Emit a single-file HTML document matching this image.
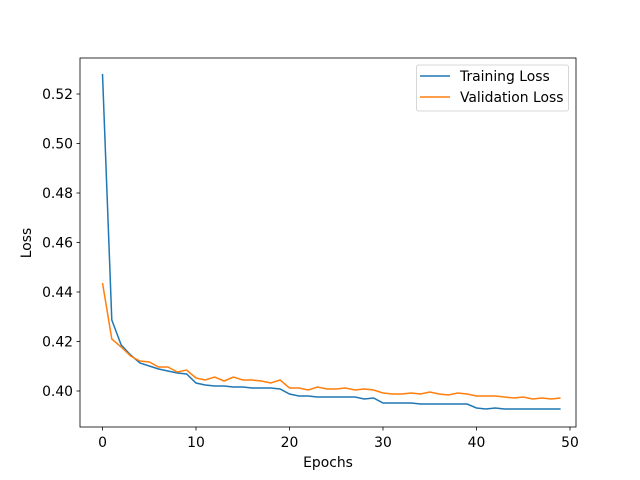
<!DOCTYPE html>
<html><head><meta charset="utf-8"><style>
body{margin:0;background:#fff;}
svg{display:block;font-family:"DejaVu Sans","Liberation Sans",sans-serif;}
</style></head><body>
<svg id="s" width="640" height="480" xmlns="http://www.w3.org/2000/svg">
<rect width="640" height="480" fill="#fff"/>
<g font-size="13.9" fill="#000" stroke="none">
<text x="102.5" y="447" text-anchor="middle">0</text>
<text x="196" y="447" text-anchor="middle">10</text>
<text x="289.5" y="447" text-anchor="middle">20</text>
<text x="383" y="447" text-anchor="middle">30</text>
<text x="476.5" y="447" text-anchor="middle">40</text>
<text x="570" y="447" text-anchor="middle">50</text>
<text x="73" y="396" text-anchor="end">0.40</text>
<text x="73" y="346.5" text-anchor="end">0.42</text>
<text x="73" y="297" text-anchor="end">0.44</text>
<text x="73" y="247.5" text-anchor="end">0.46</text>
<text x="73" y="198" text-anchor="end">0.48</text>
<text x="73" y="148.5" text-anchor="end">0.50</text>
<text x="73" y="99" text-anchor="end">0.52</text>
<text x="328" y="467" text-anchor="middle">Epochs</text>
<text x="31" y="243" text-anchor="middle" transform="rotate(-90 31 243)">Loss</text>
</g>
<g stroke="#000" stroke-width="0.8">
<line x1="102.5" y1="427" x2="102.5" y2="430.5"/><line x1="196" y1="427" x2="196" y2="430.5"/>
<line x1="289.5" y1="427" x2="289.5" y2="430.5"/><line x1="383" y1="427" x2="383" y2="430.5"/>
<line x1="476.5" y1="427" x2="476.5" y2="430.5"/><line x1="570" y1="427" x2="570" y2="430.5"/>
<line x1="76.5" y1="391" x2="80" y2="391"/><line x1="76.5" y1="341.5" x2="80" y2="341.5"/>
<line x1="76.5" y1="292" x2="80" y2="292"/><line x1="76.5" y1="242.5" x2="80" y2="242.5"/>
<line x1="76.5" y1="193" x2="80" y2="193"/><line x1="76.5" y1="143.5" x2="80" y2="143.5"/>
<line x1="76.5" y1="94" x2="80" y2="94"/>
</g>
<polyline id="t" fill="none" stroke="#1f77b4" stroke-width="1.5"/>
<polyline id="v" fill="none" stroke="#ff7f0e" stroke-width="1.5"/>
<rect x="80" y="58" width="496" height="369" fill="none" stroke="#000" stroke-width="0.8"/>
<rect x="416.5" y="65" width="152" height="46" rx="2" fill="#fff" fill-opacity="0.8" stroke="#ccc" stroke-width="0.8"/>
<line x1="420" y1="76" x2="450" y2="76" stroke="#1f77b4" stroke-width="1.5"/>
<line x1="420" y1="97" x2="450" y2="97" stroke="#ff7f0e" stroke-width="1.5"/>
<text x="460" y="81" font-size="13.9">Training Loss</text>
<text x="460" y="102" font-size="13.9">Validation Loss</text>
</svg>
<script>
var T=[74,320,345,355,363,366,369,371,373,374,383,385,386,386,387,387,388,388,388,389,394,396,396,397,397,397,397,397,399,398,403,403,403,403,404,404,404,404,404,404,408,409,408,409,409,409,409,409,409,409];
var V=[283,339,347,356,361,362,367,367,372,370,378,380,377,381,377,380,380,381,383,380,388,388,390,387,389,389,388,390,389,390,393,394,394,393,394,392,394,395,393,394,396,396,396,397,398,397,399,398,399,398];
function p(a){return a.map(function(y,i){return (102.5+9.35*i).toFixed(1)+","+y}).join(" ");}
document.getElementById("t").setAttribute("points",p(T));
document.getElementById("v").setAttribute("points",p(V));
</script>
</body></html>
